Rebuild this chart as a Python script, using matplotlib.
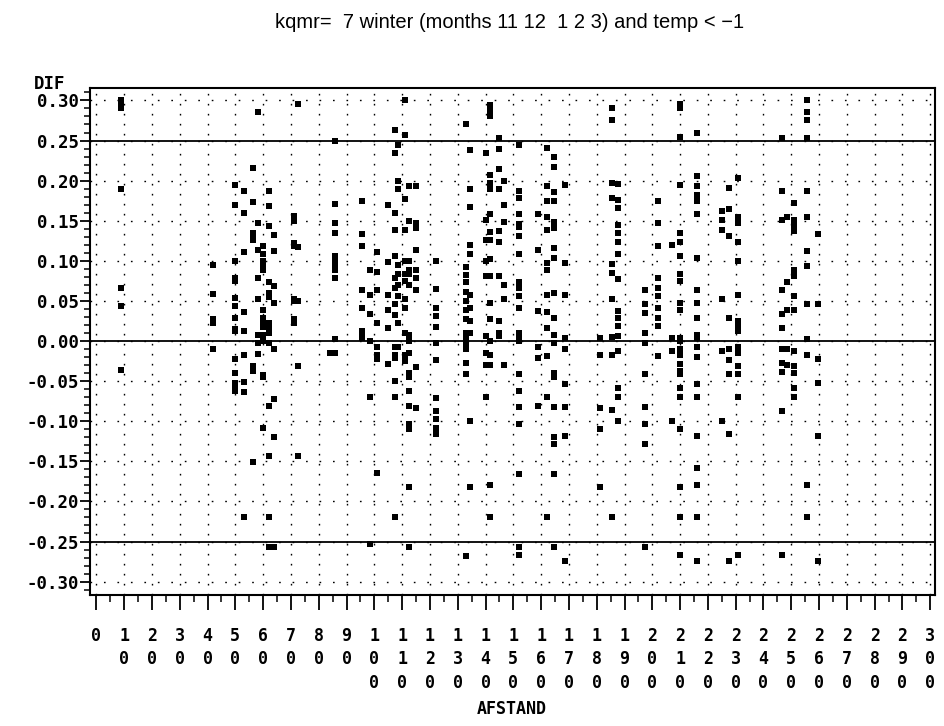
import matplotlib
matplotlib.use("Agg")
import matplotlib.pyplot as plt
from matplotlib.ticker import FixedLocator, MultipleLocator
import numpy as np

TITLE = "kqmr=  7 winter (months 11 12  1 2 3) and temp < \u22121"
X_LABEL = "AFSTAND"
Y_LABEL = "DIF"

X_TICKS = list(range(0, 301, 10))
Y_TICKS = [0.30, 0.25, 0.20, 0.15, 0.10, 0.05, 0.00, -0.05, -0.10, -0.15, -0.20, -0.25, -0.30]
REF_LINES = [0.25, 0.0, -0.25]

# (AFSTAND, [DIF values]), column by column
near_group = [
    (9, [0.300, 0.295, 0.290, 0.189, 0.066, 0.044, -0.036]),
    (42, [0.095, 0.059, 0.027, 0.023, -0.010]),
    (50, [0.194, 0.170, 0.100, 0.078, 0.075, 0.054, 0.044, 0.029, 0.015, 0.012,
          -0.022, -0.040, -0.052, -0.058, -0.062]),
    (53, [0.187, 0.160, 0.111, 0.036, 0.013, -0.018, -0.051, -0.063, -0.220]),
    (56.5, [0.216, 0.173, 0.135, 0.133, 0.126, -0.031, -0.038, -0.151]),
    (58, [0.285, 0.147, 0.113, 0.078, 0.052, 0.008, -0.002, -0.016]),
    (60, [0.118, 0.108, 0.100, 0.093, 0.089, 0.039, 0.029, 0.025, 0.017, 0.008,
          0.000, -0.042, -0.045, -0.108]),
    (62, [0.187, 0.168, 0.143, 0.073, 0.060, 0.055, 0.023, 0.017, 0.010, -0.003,
          -0.081, -0.143, -0.220, -0.257]),
    (64, [0.132, 0.112, 0.068, 0.048, -0.010, -0.072, -0.120, -0.257]),
    (71, [0.156, 0.150, 0.122, 0.118, 0.052, 0.050, 0.028, 0.022]),
    (72.5, [0.296, 0.117, 0.050, -0.031, -0.143]),
]

mid_group = [
    (84, [-0.015]),
    (86, [0.250, 0.171, 0.147, 0.135, 0.106, 0.100, 0.094, 0.088, 0.079, 0.002, -0.015]),
    (95.5, [0.175, 0.133, 0.118, 0.064, 0.041, 0.012, 0.008, 0.004]),
    (98.5, [0.088, 0.058, 0.034, 0.000, -0.070, -0.253]),
    (101, [0.111, 0.086, 0.063, 0.023, -0.007, -0.017, -0.023, -0.165]),
    (105, [0.170, 0.099, 0.058, 0.039, 0.016, -0.029]),
    (107.5, [0.263, 0.235, 0.160, 0.139, 0.106, 0.079, 0.066, 0.046, 0.032, -0.007,
             -0.017, -0.021, -0.050, -0.070, -0.220]),
    (108.5, [0.244, 0.200, 0.189, 0.095, 0.084, 0.070, 0.056, 0.023, -0.008]),
    (111, [0.300, 0.257, 0.177, 0.139, 0.100, 0.084, 0.075, 0.053, 0.041, 0.010,
           -0.017, -0.025]),
    (112.5, [0.193, 0.150, 0.100, 0.089, 0.083, 0.070, 0.008, 0.000, -0.015, -0.040,
             -0.045, -0.062, -0.081, -0.104, -0.110, -0.182, -0.257]),
    (115, [0.193, 0.147, 0.141, 0.114, 0.089, 0.079, 0.064, -0.032, -0.084]),
    (122, [0.100, 0.065, 0.041, 0.031, 0.017, -0.002, -0.024, -0.071, -0.087, -0.097,
           -0.108, -0.116]),
    (133, [0.270, 0.092, 0.082, 0.073, 0.061, 0.050, 0.039, 0.027, 0.010, 0.004,
           -0.004, -0.010, -0.028, -0.041, -0.268]),
    (134.5, [0.238, 0.190, 0.167, 0.120, 0.109, 0.057, 0.041, 0.025, 0.010, -0.100, -0.182]),
    (140, [0.234, 0.151, 0.126, 0.100, 0.081, 0.006, -0.015, -0.030, -0.070]),
    (141.5, [0.294, 0.288, 0.280, 0.207, 0.197, 0.190, 0.158, 0.136, 0.126, 0.102,
             0.081, 0.048, 0.028, 0.000, -0.017, -0.030, -0.180, -0.220]),
    (145, [0.253, 0.240, 0.214, 0.189, 0.137, 0.124, 0.081, 0.025, 0.010, 0.006]),
    (146.5, [0.200, 0.170, 0.149, 0.070, 0.053, -0.030]),
]

far_group = [
    (152, [0.245, 0.187, 0.178, 0.158, 0.146, 0.142, 0.131, 0.108, 0.073, 0.066,
           0.056, 0.041, 0.010, 0.005, 0.000, -0.041, -0.062, -0.082, -0.104, -0.166,
           -0.257, -0.267]),
    (159, [0.158, 0.113, 0.037, -0.008, -0.021, -0.081]),
    (162, [0.241, 0.193, 0.174, 0.155, 0.138, 0.097, 0.089, 0.058, 0.036, 0.016,
           -0.019, -0.070, -0.220]),
    (164.5, [0.230, 0.217, 0.186, 0.174, 0.149, 0.141, 0.116, 0.104, 0.060, 0.029,
             0.007, -0.003, -0.040, -0.045, -0.082, -0.120, -0.128, -0.166, -0.257]),
    (168.5, [0.195, 0.097, 0.058, 0.004, -0.010, -0.054, -0.082, -0.118, -0.274]),
    (181, [0.004, -0.017, -0.084, -0.110, -0.182]),
    (185.5, [0.290, 0.275, 0.197, 0.178, 0.096, 0.085, 0.052, 0.005, -0.018, -0.086, -0.220]),
    (187.5, [0.196, 0.176, 0.166, 0.145, 0.135, 0.124, 0.109, 0.077, 0.038, 0.029,
             0.019, 0.006, -0.012, -0.058, -0.070, -0.100]),
    (197.5, [0.064, 0.046, 0.035, 0.010, -0.003, -0.041, -0.082, -0.104, -0.128, -0.257]),
    (202, [0.174, 0.147, 0.118, 0.079, 0.066, 0.056, 0.041, 0.029, 0.019, -0.019]),
    (207, [0.120, 0.004, -0.012, -0.100]),
    (210, [0.295, 0.290, 0.254, 0.195, 0.135, 0.124, 0.106, 0.083, 0.075, 0.048,
           0.039, 0.004, 0.000, -0.010, -0.017, -0.029, -0.037, -0.041, -0.058, -0.070,
           -0.110, -0.182, -0.220, -0.267]),
    (216, [0.259, 0.206, 0.193, 0.182, 0.174, 0.158, 0.104, 0.064, 0.048, 0.029,
           0.008, 0.004, -0.008, -0.020, -0.053, -0.070, -0.118, -0.158, -0.180, -0.220,
           -0.274]),
    (225, [0.162, 0.151, 0.139, 0.052, -0.012, -0.100]),
    (227.5, [0.191, 0.164, 0.131, 0.029, -0.010, -0.024, -0.041, -0.116, -0.274]),
    (231, [0.203, 0.155, 0.147, 0.123, 0.100, 0.058, 0.025, 0.018, 0.012, -0.008,
           -0.015, -0.031, -0.041, -0.070, -0.267]),
    (246.5, [0.253, 0.187, 0.151, 0.064, 0.034, 0.016, -0.010, -0.027, -0.039, -0.087, -0.267]),
    (248.5, [0.155, 0.073, 0.039, -0.010, -0.030]),
    (251, [0.172, 0.151, 0.145, 0.137, 0.089, 0.081, 0.056, 0.039, -0.012, -0.031,
           -0.040, -0.058, -0.070]),
    (255.5, [0.300, 0.285, 0.275, 0.253, 0.187, 0.155, 0.112, 0.093, 0.046, 0.002,
             -0.017, -0.180, -0.220]),
    (259.5, [0.133, 0.046, -0.023, -0.052, -0.118, -0.274]),
]

BOLD_FONT = ["DejaVu Sans Mono"]
TITLE_FONT = ["Liberation Sans", "DejaVu Sans"]


def flatten(groups):
    xs, ys = [], []
    for x, vals in groups:
        xs.extend([x] * len(vals))
        ys.extend(vals)
    return np.array(xs), np.array(ys)


fig = plt.figure(figsize=(9.45, 7.26), dpi=100, facecolor="white")
ax = fig.add_axes([90 / 945, 1 - 595 / 726, 845 / 945, 507 / 726])

ax.set_xlim(-2.3, 301.7)
ax.set_ylim(-0.3167, 0.3155)

# dotted reference grid
ax.xaxis.set_major_locator(FixedLocator(X_TICKS))
ax.xaxis.set_minor_locator(MultipleLocator(5))
ax.yaxis.set_major_locator(FixedLocator(Y_TICKS))
ax.yaxis.set_minor_locator(MultipleLocator(0.01))
ax.xaxis.grid(True, which="major", color="black", linestyle=(0, (1.2, 6)), linewidth=1.0)
ax.yaxis.grid(True, which="major", color="black", linestyle=(0, (1.2, 8.5)), linewidth=1.0)
ax.set_axisbelow(True)

for yv in REF_LINES:
    ax.axhline(yv, color="black", lw=1.3, zorder=2)

for group in (near_group, mid_group, far_group):
    xs, ys = flatten(group)
    ax.scatter(xs, ys, s=13, marker="s", c="black", linewidths=0, zorder=3)

for spine in ax.spines.values():
    spine.set_linewidth(1.5)

ax.set_xticklabels(["\n".join(str(v)) for v in X_TICKS], family=BOLD_FONT,
                   fontweight="bold", fontsize=12, linespacing=1.38, va="top")
ax.set_yticklabels([f"{v:.2f}" for v in Y_TICKS], family=BOLD_FONT,
                   fontweight="bold", fontsize=12.5)
ax.tick_params(axis="x", which="major", length=11, width=1.3, pad=12, direction="out")
ax.tick_params(axis="x", which="minor", length=5, width=1.1, direction="out")
ax.tick_params(axis="y", which="major", length=7, width=1.3, pad=1, direction="out")
ax.tick_params(axis="y", which="minor", length=4, width=1.1, direction="out")

fig.text(50 / 945, 1 - 84 / 726, Y_LABEL, family=BOLD_FONT, fontweight="bold",
         fontsize=12.5, ha="center", va="center")
fig.text(512 / 945, 1 - 709 / 726, X_LABEL, family=BOLD_FONT, fontweight="bold",
         fontsize=12, ha="center", va="center")
fig.text(510 / 945, 1 - 22 / 726, TITLE, family=TITLE_FONT, fontsize=14.5,
         ha="center", va="center")

fig.savefig("out.png", dpi=100, facecolor="white")
